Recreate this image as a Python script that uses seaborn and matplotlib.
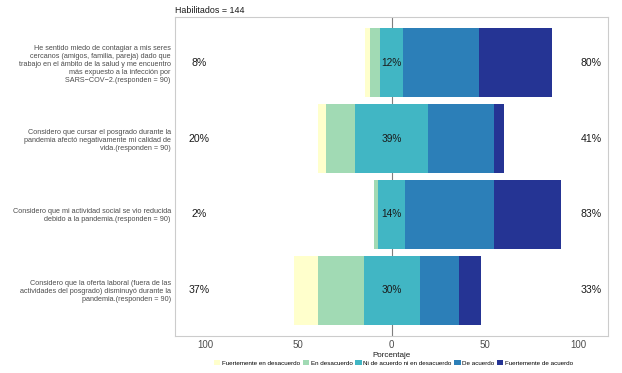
import numpy as np
import pandas as pd
import matplotlib
matplotlib.use("Agg")
import matplotlib.pyplot as plt
import seaborn as sns
from matplotlib.patches import Patch

plt.rcParams['font.family'] = ['Liberation Sans', 'DejaVu Sans']

items = [
    "He sentido miedo de contagiar a mis seres\ncercanos (amigos, familia, pareja) dado que\ntrabajo en el ámbito de la salud y me encuentro\nmás expuesto a la infección por\nSARS\u2212COV\u22122.(responden = 90)",
    "Considero que cursar el posgrado durante la\npandemia afectó negativamente mi calidad de\nvida.(responden = 90)",
    "Considero que mi actividad social se vio reducida\ndebido a la pandemia.(responden = 90)",
    "Considero que la oferta laboral (fuera de las\nactividades del posgrado) disminuyó durante la\npandemia.(responden = 90)",
]
levels = ["Fuertemente en desacuerdo", "En desacuerdo", "Ni de acuerdo ni en desacuerdo",
          "De acuerdo", "Fuertemente de acuerdo"]
fuert_desac = [2.5, 4.5, 0.0, 12.5]
desac = [5.5, 15.5, 2.2, 24.5]
neutral = [12.0, 39.0, 14.4, 30.0]
acuerdo = [41.0, 35.5, 47.8, 21.0]
fuert_ac = [39.0, 5.5, 35.6, 12.0]
colors = ["#ffffcc", "#a1dab4", "#41b6c4", "#2c7fb8", "#253494"]

sd, d, n, a, sa = map(np.array, (fuert_desac, desac, neutral, acuerdo, fuert_ac))
low = sd + d
high = a + sa

fig = plt.figure(figsize=(6.22, 3.73), dpi=100)
ax = fig.add_axes([0.2814, 0.0992, 0.9775 - 0.2814, 0.9544 - 0.0992])

layers = [
    (-(n / 2 + d + sd), colors[0]),
    (-(n / 2 + d), colors[1]),
    (-(n / 2), colors[2]),
    (n / 2 + a + sa, colors[4]),
    (n / 2 + a, colors[3]),
    (n / 2, colors[2]),
]
for vals, col in layers:
    df = pd.DataFrame({"item": items, "val": vals})
    sns.barplot(data=df, x="val", y="item", orient="h", color=col, width=0.9,
                saturation=1, ax=ax, linewidth=0, order=items)

ax.axvline(0, color="#7f7f7f", lw=0.8, zorder=0.5)
ax.set_xlim(-116, 116)
ax.set_ylim(3.6, -0.6)

for i in range(len(items)):
    ax.text(-103, i, f"{low[i]:.0f}%", ha="center", va="center", fontsize=7.6, color="#1a1a1a")
    ax.text(107, i, f"{high[i]:.0f}%", ha="center", va="center", fontsize=7.6, color="#1a1a1a")
    ax.text(0, i, f"{n[i]:.0f}%", ha="center", va="center", fontsize=7.3, color="#1a1a1a")

ax.set_xticks([-100, -50, 0, 50, 100])
ax.set_xticklabels(["100", "50", "0", "50", "100"], fontsize=7, color="#4d4d4d")
ax.tick_params(axis="x", length=0, pad=3)
ax.tick_params(axis="y", length=0, pad=3, labelsize=5.2, labelcolor="#4d4d4d")
ax.set_ylabel("")
ax.set_xlabel("Porcentaje", fontsize=5.8, color="#1a1a1a", labelpad=1)
for s in ax.spines.values():
    s.set_color("#cccccc")
    s.set_linewidth(0.8)
ax.set_facecolor("white")

ax.set_title("Habilitados = 144", loc="left", fontsize=6.4, color="#1a1a1a", pad=3, x=0)

handles = [Patch(facecolor=c, edgecolor="none", label=l) for c, l in zip(colors, levels)]
fig.legend(handles=handles, loc="center", bbox_to_anchor=(0.633, 0.028), ncol=5, frameon=False,
           fontsize=4.5, handlelength=1.0, handleheight=1.0, handletextpad=0.3, columnspacing=0.4,
           borderaxespad=0)

fig.savefig("out.png", dpi=100, facecolor="white")
